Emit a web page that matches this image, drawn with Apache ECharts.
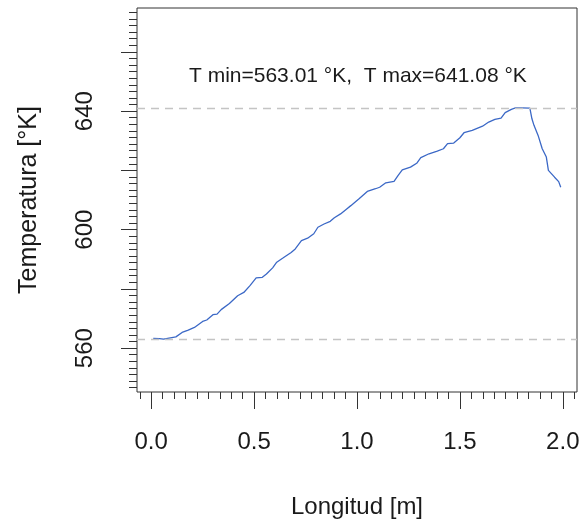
<!DOCTYPE html>
<html>
<head>
<meta charset="utf-8">
<script src="https://cdn.jsdelivr.net/npm/echarts@6/dist/echarts.min.js"></script>
<style>
  html, body { margin: 0; padding: 0; background: #fff; }
  #main { width: 584px; height: 525px; }
</style>
</head>
<body>
<div id="main"></div>
<script>
// longitud [m] y temperatura [°K]
var longitud = [0.01, 0.04, 0.06, 0.08, 0.12, 0.15, 0.18, 0.21, 0.25, 0.27, 0.30, 0.32, 0.34, 0.38,
    0.42, 0.45, 0.48, 0.51, 0.54, 0.56, 0.59, 0.61, 0.64, 0.68, 0.70, 0.73, 0.76, 0.79, 0.81,
    0.84, 0.87, 0.89, 0.92, 0.95, 0.97, 1.01, 1.05, 1.09, 1.11, 1.14, 1.18, 1.20, 1.22, 1.26,
    1.29, 1.31, 1.35, 1.39, 1.42, 1.44, 1.47, 1.50, 1.52, 1.56, 1.61, 1.64, 1.67, 1.70, 1.72,
    1.75, 1.77, 1.80, 1.84, 1.85, 1.86, 1.88, 1.90, 1.92, 1.93, 1.96, 1.98, 1.99];
var temperatura = [563.3, 563.2, 563.01, 563.3, 563.8, 565.3, 566.1, 567.0, 569.0, 569.5, 571.3, 571.5, 573.0, 575.1,
    577.7, 578.8, 581.1, 583.7, 583.9, 585.0, 587.1, 589.0, 590.4, 592.3, 593.5, 596.3, 597.1, 598.6, 600.8,
    601.9, 602.8, 604.0, 605.3, 607.0, 608.1, 610.4, 612.9, 613.8, 614.3, 615.8, 616.3, 618.3, 620.2, 621.1,
    622.4, 624.3, 625.6, 626.5, 627.3, 629.0, 629.2, 631.0, 632.7, 633.5, 634.9, 636.3, 637.2, 637.6, 639.5,
    640.6, 641.08, 641.08, 641.0, 637.4, 635.2, 631.8, 627.3, 624.5, 620.0, 617.7, 616.2, 614.3];
var tMin = 563.01;
var tMax = 641.08;

var xLabels = [0.0, 0.5, 1.0, 1.5, 2.0];
var yMajor = [560, 580, 600, 620, 640, 660];
var yLabels = [560, 600, 640];

// ticks menores (9 divisiones entre marcas mayores)
var xMinor = [];
for (var i = -1; i <= 37; i++) xMinor.push(i * 0.5 / 9);
var yMinor = [];
for (var j = -6; j <= 51; j++) yMinor.push(560 + j * 20 / 9);

var data = longitud.map(function (x, k) { return [x, temperatura[k]]; });

var myChart = echarts.init(document.getElementById('main'));
var txt = '#1a1a1a';
var font = 'Liberation Sans';

var xMin = -0.069, xMax = 2.069;
var yMin = 545.2, yMax = 674.8;

var option = {
    animation: false,
    title: {
        text: 'T min=' + tMin.toFixed(2) + ' °K,  T max=' + tMax.toFixed(2) + ' °K',
        left: 189,
        top: 66,
        padding: 0,
        textStyle: { color: txt, fontFamily: font, fontSize: 21, fontWeight: 'normal' }
    },
    grid: {
        left: 137, right: 7, top: 8, bottom: 133,
        show: true,
        borderColor: '#333',
        borderWidth: 1
    },
    xAxis: [{
        type: 'value',
        position: 'bottom',
        min: xMin, max: xMax,
        name: 'Longitud [m]',
        nameLocation: 'middle',
        nameGap: 103,
        nameTextStyle: { color: txt, fontFamily: font, fontSize: 24 },
        axisLine: { show: false, onZero: false },
        splitLine: { show: false },
        axisTick: { show: true, length: 17, customValues: xLabels, lineStyle: { color: '#333' } },
        axisLabel: {
            customValues: xLabels,
            margin: 38,
            color: txt, fontFamily: font, fontSize: 24,
            formatter: function (v) { return v.toFixed(1); }
        }
    }, {
        type: 'value',
        position: 'bottom',
        min: xMin, max: xMax,
        axisLine: { show: false, onZero: false },
        splitLine: { show: false },
        axisLabel: { show: false },
        axisTick: { show: true, length: 7, customValues: xMinor, lineStyle: { color: '#333' } }
    }],
    yAxis: [{
        type: 'value',
        position: 'left',
        min: yMin, max: yMax,
        name: 'Temperatura [°K]',
        nameLocation: 'middle',
        nameGap: 95,
        nameRotate: 90,
        nameTextStyle: { color: txt, fontFamily: font, fontSize: 25 },
        axisLine: { show: false, onZero: false },
        splitLine: { show: false },
        axisTick: { show: true, length: 16, customValues: yMajor, lineStyle: { color: '#333' } },
        axisLabel: {
            customValues: yLabels,
            rotate: 90,
            margin: 40,
            color: txt, fontFamily: font, fontSize: 24
        }
    }, {
        type: 'value',
        position: 'left',
        min: yMin, max: yMax,
        axisLine: { show: false, onZero: false },
        splitLine: { show: false },
        axisLabel: { show: false },
        axisTick: { show: true, length: 8, customValues: yMinor, lineStyle: { color: '#333' } }
    }],
    series: [{
        type: 'line',
        xAxisIndex: 0,
        yAxisIndex: 0,
        data: data,
        showSymbol: false,
        symbol: 'none',
        lineStyle: { color: '#3b68c6', width: 1.3 },
        markLine: {
            silent: true,
            symbol: ['none', 'none'],
            label: { show: false },
            lineStyle: { color: '#c4c4c4', type: [8, 6], width: 1.3 },
            data: [{ yAxis: tMin }, { yAxis: tMax }]
        }
    }]
};
myChart.setOption(option);
</script>
</body>
</html>
